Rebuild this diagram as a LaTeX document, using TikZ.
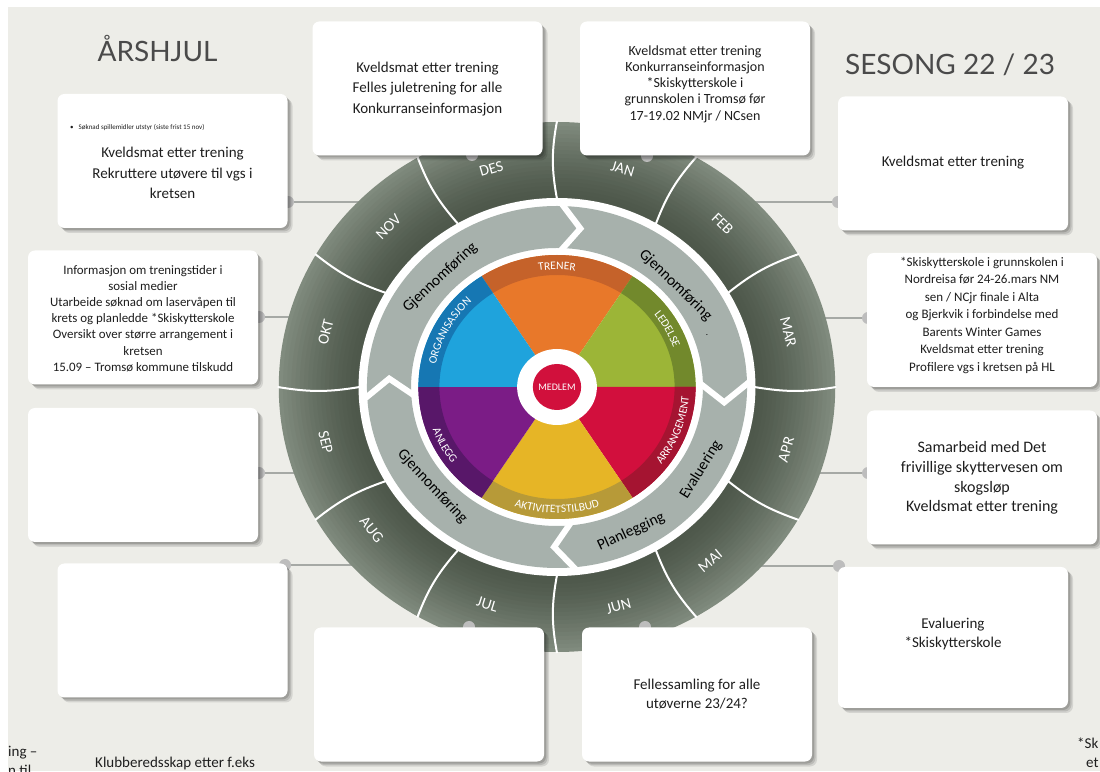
\documentclass[tikz,border=0pt]{standalone}
\usepackage{fontspec}
\setmainfont{Carlito}
\newfontfamily\latofont{Lato}
\usetikzlibrary{shadows,decorations.text}
\definecolor{bg}{HTML}{EDEDE8}
\definecolor{ringin}{HTML}{4E584B}
\definecolor{ringout}{HTML}{808B7E}
\definecolor{lightring}{HTML}{A7B1AC}
\definecolor{txt}{HTML}{1E1E1E}
\definecolor{titlec}{HTML}{4A4A4A}
\definecolor{conn}{HTML}{A6A9A5}
\definecolor{dotc}{HTML}{BDBDBD}
\definecolor{orM}{HTML}{E8782A}\definecolor{orR}{HTML}{C5622A}
\definecolor{grM}{HTML}{9CB537}\definecolor{grR}{HTML}{72892C}
\definecolor{reM}{HTML}{D20F3D}\definecolor{reR}{HTML}{A51431}
\definecolor{yeM}{HTML}{E6B526}\definecolor{yeR}{HTML}{B79A38}
\definecolor{puM}{HTML}{7B1C86}\definecolor{puR}{HTML}{581769}
\definecolor{blM}{HTML}{1FA3DC}\definecolor{blR}{HTML}{1677B3}
\definecolor{medlem}{HTML}{D1103C}
\pgfdeclarelayer{bgl}
\pgfdeclarelayer{conns}
\pgfsetlayers{bgl,conns,main}
\newcommand\rimfont{\fontsize{11.5}{11.5}\selectfont}
\begin{document}
\begin{tikzpicture}[x=1pt,y=1pt,
  card/.style={fill=white, rounded corners=7pt, inner sep=0pt,
    minimum width=230pt, minimum height=134pt,
    drop shadow={shadow xshift=5pt, shadow yshift=-5pt, opacity=0.10, fill=black},
    drop shadow={shadow xshift=3.5pt, shadow yshift=-3.5pt, opacity=0.12, fill=black},
    drop shadow={shadow xshift=2pt, shadow yshift=-2pt, opacity=0.15, fill=black}},
  cdot/.style={circle, fill=dotc, minimum size=12pt, inner sep=0pt},
  connector/.style={draw=conn, line width=2.8pt},
  boxtext/.style={text=txt, align=center, inner sep=0pt},
  month/.style={text=white, font=\fontsize{15.5}{15.5}\selectfont, inner sep=0pt},
  phase/.style={text=black, font=\fontsize{15.5}{16}\selectfont, inner sep=0pt},
  monthsep/.style={draw=white, line width=2pt},
  chev/.style={draw=white, line width=6pt, line join=miter},
  rimtext/.style={decorate, decoration={text along path, text align=center, text color=white, text={|\rimfont|#1}}},
  bottomtext/.style={anchor=base west, text=txt, font=\fontsize{15}{15}\selectfont, inner sep=0pt}
]
\useasboundingbox (0,0) rectangle (1100,771);
\clip (0,0) rectangle (1100,771);
\begin{pgfonlayer}{bgl}
\fill[white] (0,0) rectangle (1100,771);
\fill[bg] (8,0) rectangle (1100,764);
\end{pgfonlayer}

% titles
\node[anchor=base, text=titlec, font=\latofont\fontsize{28}{28}\selectfont] (title) at (157.5,709) {ÅRSHJUL};
\node[anchor=base, text=titlec, font=\latofont\fontsize{28}{28}\selectfont] (season) at (950,696) {SESONG 22 / 23};

% connector ends inside the wheel
\coordinate (cNOV) at (420,569);
\coordinate (cDES) at (472,520);
\coordinate (cJAN) at (647,520);
\coordinate (cFEB) at (700,569);
\coordinate (cOKT) at (400,454);
\coordinate (cSEP) at (400,298);
\coordinate (cAUG) at (450,206);
\coordinate (cJUL) at (469,250);
\coordinate (cJUN) at (645,250);
\coordinate (cMAI) at (660,205);
\coordinate (cMAR) at (720,453);
\coordinate (cAPR) at (720,298);

% wheel
\begin{scope}[shift={(557,384)}, xscale=1.05]
  % month ring: stacked disks, lighter outside, darker inside
  \foreach \i in {18,17,...,0} {
    \pgfmathsetmacro\rout{min(265,189+4*\i+4)}
    \pgfmathsetmacro\p{100*(\i/18)^1.3}
    \fill[ringout!\p!ringin] (0,0) circle[radius=\rout];
  }
  \fill[white] (0,0) circle[radius=189];
  \fill[lightring, even odd rule] (0,0) circle[radius=181] (0,0) circle[radius=139];
  \foreach \a in {30,60,90,120,150,180} \draw[monthsep] (\a:188) to[bend left=10] (\a:266);
  \foreach \a in {0,-30,-60,-90,-120,-150} \draw[monthsep] (\a:188) to[bend right=10] (\a:266);
  \foreach \a/\m/\r in {106/DES/16, 74/JAN/-16, 46/FEB/-44, 14/MAR/-76, -16/APR/74, -50/MAI/40, -75/JUN/15, -107/JUL/-17, -141/AUG/-51, -166/SEP/-76, 166/OKT/76, 135/NOV/45}
    \node[month, rotate=\r] (m\m) at (\a:227) {\m};
  % phase chevrons
  \draw[chev] (89:185) -- (82:160) -- (89:135);
  \draw[chev] (2:185) -- (-5.5:160) -- (2:135);
  \draw[chev] (-84:185) -- (-91:160) -- (-84:135);
  \draw[chev] (184:185) -- (177:160) -- (184:135);
  \node[phase, rotate=43] (p1) at (135.5:156) {Gjennomføring};
  \node[phase, rotate=-44] (p2) at (42:152) {Gjennomføring};
  \node[phase, font=\fontsize{9}{9}\selectfont] (p2dot) at (20:152) {.};
  \node[phase, rotate=58] (p3) at (-31:160) {Evaluering};
  \node[phase, rotate=25] (p4) at (-64:161) {Planlegging};
  \node[phase, rotate=-47] (p5) at (-140:155) {Gjennomføring};
  % pie
  \foreach \a/\b/\m/\r in {57/123/orM/orR, 0/57/grM/grR, -57/0/reM/reR, -123/-57/yeM/yeR, 180/237/puM/puR, 123/180/blM/blR} {
    \fill[\m] (0,0) -- (\a:132) arc[start angle=\a, end angle=\b, radius=132] -- cycle;
    \fill[\r] (\a:112) -- (\a:132) arc[start angle=\a, end angle=\b, radius=132] -- (\b:112) arc[start angle=\b, end angle=\a, radius=112] -- cycle;
  }
  \path[rimtext=TRENER] (125:117.5) arc[start angle=125, end angle=55, radius=117.5];
  \path[rimtext=LEDELSE] (55:117.5) arc[start angle=55, end angle=2, radius=117.5];
  \path[rimtext=ORGANISASJON] (178:117.5) arc[start angle=178, end angle=125, radius=117.5];
  \path[rimtext=AKTIVITETSTILBUD] (-130:126) arc[start angle=-130, end angle=-50, radius=126];
  \path[rimtext=ARRANGEMENT] (-48:126) arc[start angle=-48, end angle=6, radius=126];
  \path[rimtext=ANLEGG] (-178:126) arc[start angle=-178, end angle=-125, radius=126];
  \fill[white] (0,0) circle[radius=38];
  \fill[medlem] (0,0) circle[radius=23];
  \node[text=white, font=\fontsize{10}{10}\selectfont, inner sep=0pt] (medlemtxt) at (0,0) {MEDLEM};
\end{scope}

% connector dots
\node[cdot] (dNOV) at (288,569) {};
\node[cdot] (dDES) at (472,616) {};
\node[cdot] (dJAN) at (647,615) {};
\node[cdot] (dFEB) at (838,569) {};
\node[cdot] (dOKT) at (259,454) {};
\node[cdot] (dSEP) at (259,298) {};
\node[cdot] (dAUG) at (285,206) {};
\node[cdot] (dJUL) at (469,144) {};
\node[cdot] (dJUN) at (645,144) {};
\node[cdot] (dMAI) at (839,205) {};
\node[cdot] (dMAR) at (868,453) {};
\node[cdot] (dAPR) at (868,298) {};

\begin{pgfonlayer}{conns}
\foreach \n in {NOV,DES,JAN,FEB,OKT,SEP,AUG,JUL,JUN,MAI,MAR,APR}
  \draw[connector] (d\n.center) -- (c\n);
\end{pgfonlayer}

% cards
\node[card] (bNOV) at (172.5,610) {};
\node[card] (bDES) at (427.5,682.5) {};
\node[card] (bJAN) at (695,682.5) {};
\node[card] (bFEB) at (953,607.5) {};
\node[card] (bOKT) at (143,453.5) {};
\node[card] (bSEP) at (143,296) {};
\node[card] (bAUG) at (172.5,140.5) {};
\node[card] (bJUL) at (429,76.5) {};
\node[card] (bJUN) at (697,76.5) {};
\node[card, minimum height=141pt] (bMAI) at (953,133.5) {};
\node[card] (bMAR) at (982,451) {};
\node[card] (bAPR) at (982,293.5) {};

% card texts
\node[anchor=west, text=txt, font=\fontsize{7}{8}\selectfont, inner sep=0pt] (tNOVb) at (70,643) {•\hspace{5pt}Søknad spillemidler utstyr (siste frist 15 nov)};
\node[boxtext, font=\fontsize{15}{20.5}\selectfont] (tNOV) at (172.5,598) {Kveldsmat etter trening\\Rekruttere utøvere til vgs i\\kretsen};
\node[boxtext, font=\fontsize{15}{20.5}\selectfont] (tDES) at (427.5,682) {Kveldsmat etter trening\\Felles juletrening for alle\\Konkurranseinformasjon};
\node[boxtext, font=\fontsize{14}{16.3}\selectfont] (tJAN) at (695,687) {Kveldsmat etter trening\\Konkurranseinformasjon\\*Skiskytterskole i\\grunnskolen i Tromsø før\\17-19.02 NMjr / NCsen};
\node[boxtext, font=\fontsize{15}{18}\selectfont] (tFEB) at (953,608) {Kveldsmat etter trening};
\node[boxtext, font=\fontsize{12.9}{16.2}\selectfont] (tOKT) at (143,452.5) {Informasjon om treningstider i\\sosial medier\\Utarbeide søknad om laservåpen til\\krets og planledde *Skiskytterskole\\Oversikt over større arrangement i\\kretsen\\15.09 – Tromsø kommune tilskudd};
\node[boxtext, font=\fontsize{13}{17.5}\selectfont] (tMAR) at (982,455.5) {*Skiskytterskole i grunnskolen i\\Nordreisa før 24-26.mars NM\\sen / NCjr finale i Alta\\og Bjerkvik i forbindelse med\\Barents Winter Games\\Kveldsmat etter trening\\Profilere vgs i kretsen på HL};
\node[boxtext, font=\fontsize{16}{19.7}\selectfont] (tAPR) at (982,293) {Samarbeid med Det\\frivillige skyttervesen om\\skogsløp\\Kveldsmat etter trening};
\node[boxtext, font=\fontsize{15}{18.3}\selectfont] (tMAI) at (953,137) {Evaluering\\*Skiskytterskole};
\node[boxtext, font=\fontsize{15}{18.3}\selectfont] (tJUN) at (697,77) {Fellessamling for alle\\utøverne 23/24?};

% cut-off texts at the lower edge
\node[bottomtext] (bt1) at (8,15) {ing –};
\node[bottomtext] (bt2) at (8,-4) {n til};
\node[bottomtext] (bt3) at (95,4) {Klubberedsskap etter f.eks};
\node[bottomtext] (bt4) at (1077,23) {*Sk};
\node[bottomtext] (bt5) at (1086,4) {et};
\end{tikzpicture}
\end{document}
